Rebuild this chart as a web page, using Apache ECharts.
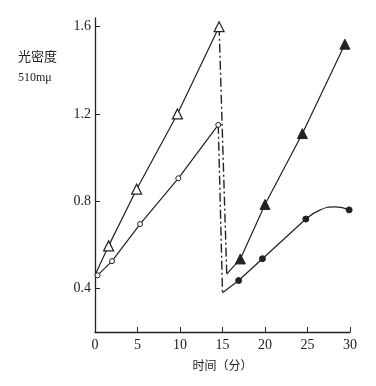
<!DOCTYPE html>
<html><head><meta charset="utf-8">
<script src="https://cdn.jsdelivr.net/npm/echarts@6/dist/echarts.min.js"></script>
<style>html,body{margin:0;padding:0;background:#fff}#c{width:376px;height:386px}</style>
</head><body><div id="c"></div>
<script>
// Data
var openTriangle = [[0, 0.46], [1.6, 0.595], [4.9, 0.855], [9.7, 1.2], [14.6, 1.6]];
var openTriangleMarked = [false, true, true, true, true];
var openCircle = [[0, 0.46], [0.3, 0.46], [2.0, 0.525], [5.3, 0.695], [9.8, 0.905], [14.5, 1.15]];
var openCircleMarked = [false, true, true, true, true, true];
var dropTriangle = [[14.6, 1.6], [15.5, 0.465]];
var dropCircle = [[14.5, 1.15], [15.0, 0.38]];
var filledTriangle = [[15.5, 0.465], [17.1, 0.535], [20.0, 0.785], [24.4, 1.11], [29.4, 1.52]];
var filledTriangleMarked = [false, true, true, true, true];
var filledCircleLine = [[15.0, 0.38], [16.9, 0.436], [19.7, 0.536], [24.8, 0.718]];
var filledCircleLineMarked = [false, true, true, true];
var filledCircleCurve = [[24.8, 0.718], [26.5, 0.76], [28.3, 0.774], [29.9, 0.76]];
var filledCircleCurveMarked = [false, false, false, true];
var yTicks = [0.4, 0.8, 1.2, 1.6];
var xTicks = [0, 5, 10, 15, 20, 25, 30];

function pts(arr, marked, sym, size) {
  return arr.map(function (p, i) {
    return { value: p, symbol: marked[i] ? sym : 'none', symbolSize: size };
  });
}
var ink = '#222';
var chart = echarts.init(document.getElementById('c'));
var serif = 'Liberation Serif';
chart.setOption({
  backgroundColor: '#fff',
  animation: false,
  grid: { left: 95, right: 26, top: 18, bottom: 54 },
  xAxis: {
    type: 'value', min: 0, max: 30, interval: 5,
    name: '时间（分）', nameLocation: 'middle', nameGap: 27,
    nameTextStyle: { color: ink, fontSize: 12, fontFamily: 'Noto Sans CJK SC' },
    axisLine: { lineStyle: { color: ink, width: 1.3 } },
    axisTick: { inside: true, length: 5, lineStyle: { color: ink } },
    axisLabel: { color: ink, fontSize: 14, fontFamily: serif, margin: 6 },
    splitLine: { show: false }
  },
  yAxis: {
    type: 'value', min: 0.2, max: 1.64,
    axisLine: { show: true, lineStyle: { color: ink, width: 1.3 } },
    axisTick: { show: true, inside: true, length: 5, customValues: yTicks, lineStyle: { color: ink } },
    axisLabel: { color: ink, fontSize: 14, fontFamily: serif, margin: 4, customValues: yTicks,
      formatter: function (v) { return v.toFixed(1); } },
    splitLine: { show: false }
  },
  graphic: [
    { type: 'text', left: 18, top: 50, style: { text: '光密度', fontSize: 13, fontFamily: 'Noto Sans CJK SC', fill: ink } },
    { type: 'text', left: 18, top: 72, style: { text: '510mμ', fontSize: 12, fontFamily: serif, fill: ink } }
  ],
  series: [
    { type: 'line', data: pts(openTriangle, openTriangleMarked, 'triangle', 10),
      lineStyle: { color: ink, width: 1.2 }, itemStyle: { color: '#fff', borderColor: ink, borderWidth: 1.2 } },
    { type: 'line', data: pts(openCircle, openCircleMarked, 'circle', 5),
      lineStyle: { color: ink, width: 1.2 }, itemStyle: { color: '#fff', borderColor: ink, borderWidth: 1 } },
    { type: 'line', data: dropTriangle, symbol: 'none',
      lineStyle: { color: ink, width: 1.4, type: [9, 3, 2, 3] } },
    { type: 'line', data: dropCircle, symbol: 'none',
      lineStyle: { color: ink, width: 1.4, type: [9, 3, 2, 3] } },
    { type: 'line', data: pts(filledTriangle, filledTriangleMarked, 'triangle', 10),
      lineStyle: { color: ink, width: 1.2 }, itemStyle: { color: ink, borderColor: ink } },
    { type: 'line', data: pts(filledCircleLine, filledCircleLineMarked, 'circle', 6),
      lineStyle: { color: ink, width: 1.2 }, itemStyle: { color: ink, borderColor: ink } },
    { type: 'line', smooth: 0.5, data: pts(filledCircleCurve, filledCircleCurveMarked, 'circle', 6),
      lineStyle: { color: ink, width: 1.2 }, itemStyle: { color: ink, borderColor: ink } }
  ]
});
</script></body></html>
